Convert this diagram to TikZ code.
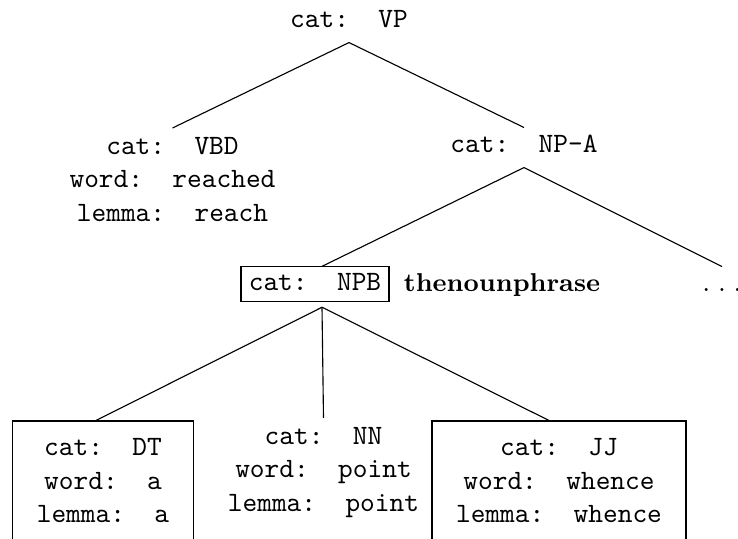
\documentclass[tikz,border=0pt]{standalone}
\begin{document}
\begin{tikzpicture}[x=0.357pt,y=-0.357pt,
  every node/.style={font=\ttfamily},
  one/.style={inner xsep=0pt, inner ysep=0.5pt, text height=8.4pt, text depth=4.5pt, anchor=base},
  multi/.style={align=center, inner xsep=0pt, inner ysep=0.8pt, anchor=north},
  featbox/.style={align=center, inner xsep=8.4pt, inner ysep=3.7pt, anchor=north},
  smallbox/.style={draw, inner xsep=2.8pt, inner ysep=2.5pt, text height=6.1pt, text depth=1.3pt, anchor=base},
  edge/.style={draw, line width=0.4pt}]
\clip (0,0) rectangle (738,539);

% top levels
\node[one] (vp) at (349,28) {cat:~~VP};
\node[multi] (vbd) at (172.5,128) {\strut cat:~~VBD\\word:~~reached\\lemma:~~reach};
\node[one] (npa) at (524,153) {cat:~~NP-A};

% noun phrase level
\node[smallbox] (npb) at (315,291) {cat:~~NPB};
\node[anchor=base, font=\fontsize{9.2pt}{11pt}\bfseries\rmfamily] (np) at (502,292) {thenounphrase};
\node[one, font=\fontsize{11pt}{13pt}\rmfamily] (dots) at (722,292) {.\kern2.6pt.\kern2.6pt.};

% leaves; the framed ones run on below the page edge
\node[featbox] (dt) at (103,421) {\strut cat:~~DT\\word:~~a\\lemma:~~a};
\node[multi] (nn) at (323.5,418) {\strut cat:~~NN\\word:~~point\\lemma:~~point};
\node[featbox] (jj) at (559,421) {\strut cat:~~JJ\\word:~~whence\\lemma:~~whence};
\draw (dt.north west) rectangle ([yshift=-20pt]dt.south east);
\draw (jj.north west) rectangle ([yshift=-20pt]jj.south east);

% edges
\path[edge] (vp.south) -- (vbd.north);
\path[edge] (vp.south) -- (npa.north);
\path[edge] (npa.south) -- ([xshift=2.5pt]npb.north);
\path[edge] (npa.south) -- (dots.north);
\path[edge] ([xshift=2.5pt,yshift=-1.8pt]npb.south) -- ([xshift=-2.9pt]dt.north);
\path[edge] ([xshift=2.5pt,yshift=-1.8pt]npb.south) -- (nn.north);
\path[edge] ([xshift=2.5pt,yshift=-1.8pt]npb.south) -- ([xshift=-3.2pt]jj.north);
\end{tikzpicture}
\end{document}
